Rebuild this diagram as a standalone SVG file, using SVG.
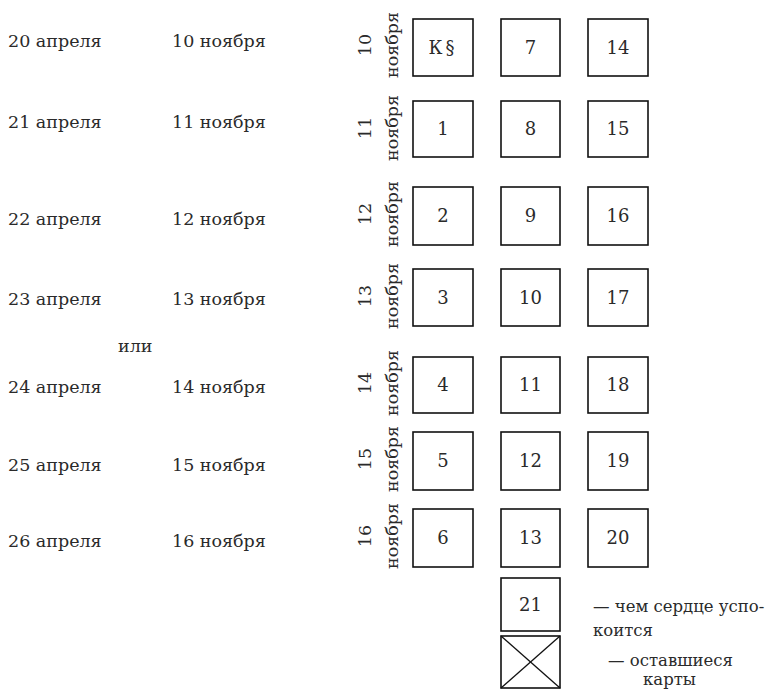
<svg xmlns="http://www.w3.org/2000/svg" width="769" height="690" viewBox="0 0 769 690">
<style>
text{font-family:"DejaVu Serif","Liberation Serif",serif;fill:#2a2a2a;}
.d{font-size:17.5px;}
.l{font-size:16.5px;}
.r{font-size:17.5px;text-anchor:middle;}
.n{font-size:18px;text-anchor:middle;}
.box{fill:none;stroke:#111;stroke-width:1.6;}
.ln{stroke:#111;stroke-width:1.3;}
</style>
<rect width="769" height="690" fill="#fff"/>
<g id="dates">
<text class="d" x="8" y="47">20 апреля</text><text class="d" x="172" y="47">10 ноября</text>
<text class="d" x="8" y="128">21 апреля</text><text class="d" x="172" y="128">11 ноября</text>
<text class="d" x="8" y="225">22 апреля</text><text class="d" x="172" y="225">12 ноября</text>
<text class="d" x="8" y="305">23 апреля</text><text class="d" x="172" y="305">13 ноября</text>
<text class="d" x="118" y="352">или</text>
<text class="d" x="8" y="393">24 апреля</text><text class="d" x="172" y="393">14 ноября</text>
<text class="d" x="8" y="471">25 апреля</text><text class="d" x="172" y="471">15 ноября</text>
<text class="d" x="8" y="547">26 апреля</text><text class="d" x="172" y="547">16 ноября</text>
</g>
<g id="rowlabels">
<text class="r" transform="translate(371,45) rotate(-90)">10</text><text class="r" transform="translate(398,45) rotate(-90)">ноября</text>
<text class="r" transform="translate(371,128) rotate(-90)">11</text><text class="r" transform="translate(398,128) rotate(-90)">ноября</text>
<text class="r" transform="translate(371,214) rotate(-90)">12</text><text class="r" transform="translate(398,214) rotate(-90)">ноября</text>
<text class="r" transform="translate(371,296) rotate(-90)">13</text><text class="r" transform="translate(398,296) rotate(-90)">ноября</text>
<text class="r" transform="translate(371,383) rotate(-90)">14</text><text class="r" transform="translate(398,383) rotate(-90)">ноября</text>
<text class="r" transform="translate(371,459) rotate(-90)">15</text><text class="r" transform="translate(398,459) rotate(-90)">ноября</text>
<text class="r" transform="translate(371,536) rotate(-90)">16</text><text class="r" transform="translate(398,536) rotate(-90)">ноября</text>
</g>
<g id="col1">
<g id="card-K"><rect class="box" x="413" y="19" width="60" height="57"/><text class="n" x="443" y="54" letter-spacing="3">К§</text></g>
<g id="card-1"><rect class="box" x="413" y="101" width="60" height="56"/><text class="n" x="443" y="135">1</text></g>
<g id="card-2"><rect class="box" x="413" y="187" width="60" height="58"/><text class="n" x="443" y="222">2</text></g>
<g id="card-3"><rect class="box" x="413" y="269" width="60" height="57"/><text class="n" x="443" y="304">3</text></g>
<g id="card-4"><rect class="box" x="413" y="357" width="60" height="56"/><text class="n" x="443" y="391">4</text></g>
<g id="card-5"><rect class="box" x="413" y="432" width="60" height="58"/><text class="n" x="443" y="467">5</text></g>
<g id="card-6"><rect class="box" x="413" y="509" width="60" height="58"/><text class="n" x="443" y="544">6</text></g>
</g>
<g id="col2">
<g id="card-7"><rect class="box" x="501" y="19" width="59" height="57"/><text class="n" x="530.5" y="54">7</text></g>
<g id="card-8"><rect class="box" x="501" y="101" width="59" height="56"/><text class="n" x="530.5" y="135">8</text></g>
<g id="card-9"><rect class="box" x="501" y="187" width="59" height="58"/><text class="n" x="530.5" y="222">9</text></g>
<g id="card-10"><rect class="box" x="501" y="269" width="59" height="57"/><text class="n" x="530.5" y="304">10</text></g>
<g id="card-11"><rect class="box" x="501" y="357" width="59" height="56"/><text class="n" x="530.5" y="391">11</text></g>
<g id="card-12"><rect class="box" x="501" y="432" width="59" height="58"/><text class="n" x="530.5" y="467">12</text></g>
<g id="card-13"><rect class="box" x="501" y="509" width="59" height="58"/><text class="n" x="530.5" y="544">13</text></g>
<g id="card-21"><rect class="box" x="501" y="578" width="59" height="53"/><text class="n" x="530.5" y="611">21</text></g>
<g id="card-rest"><rect class="box" x="501" y="636" width="59" height="52"/><line class="ln" x1="501" y1="636" x2="560" y2="688"/><line class="ln" x1="560" y1="636" x2="501" y2="688"/></g>
</g>
<g id="col3">
<g id="card-14"><rect class="box" x="588" y="19" width="60" height="57"/><text class="n" x="618" y="54">14</text></g>
<g id="card-15"><rect class="box" x="588" y="101" width="60" height="56"/><text class="n" x="618" y="135">15</text></g>
<g id="card-16"><rect class="box" x="588" y="187" width="60" height="58"/><text class="n" x="618" y="222">16</text></g>
<g id="card-17"><rect class="box" x="588" y="269" width="60" height="57"/><text class="n" x="618" y="304">17</text></g>
<g id="card-18"><rect class="box" x="588" y="357" width="60" height="56"/><text class="n" x="618" y="391">18</text></g>
<g id="card-19"><rect class="box" x="588" y="432" width="60" height="58"/><text class="n" x="618" y="467">19</text></g>
<g id="card-20"><rect class="box" x="588" y="509" width="60" height="58"/><text class="n" x="618" y="544">20</text></g>
</g>
<g id="legend">
<text class="l" x="593" y="612">— чем сердце успо-</text>
<text class="l" x="593" y="636">коится</text>
<text class="l" x="608" y="666">— оставшиеся</text>
<text class="l" x="643" y="685">карты</text>
</g>
</svg>
